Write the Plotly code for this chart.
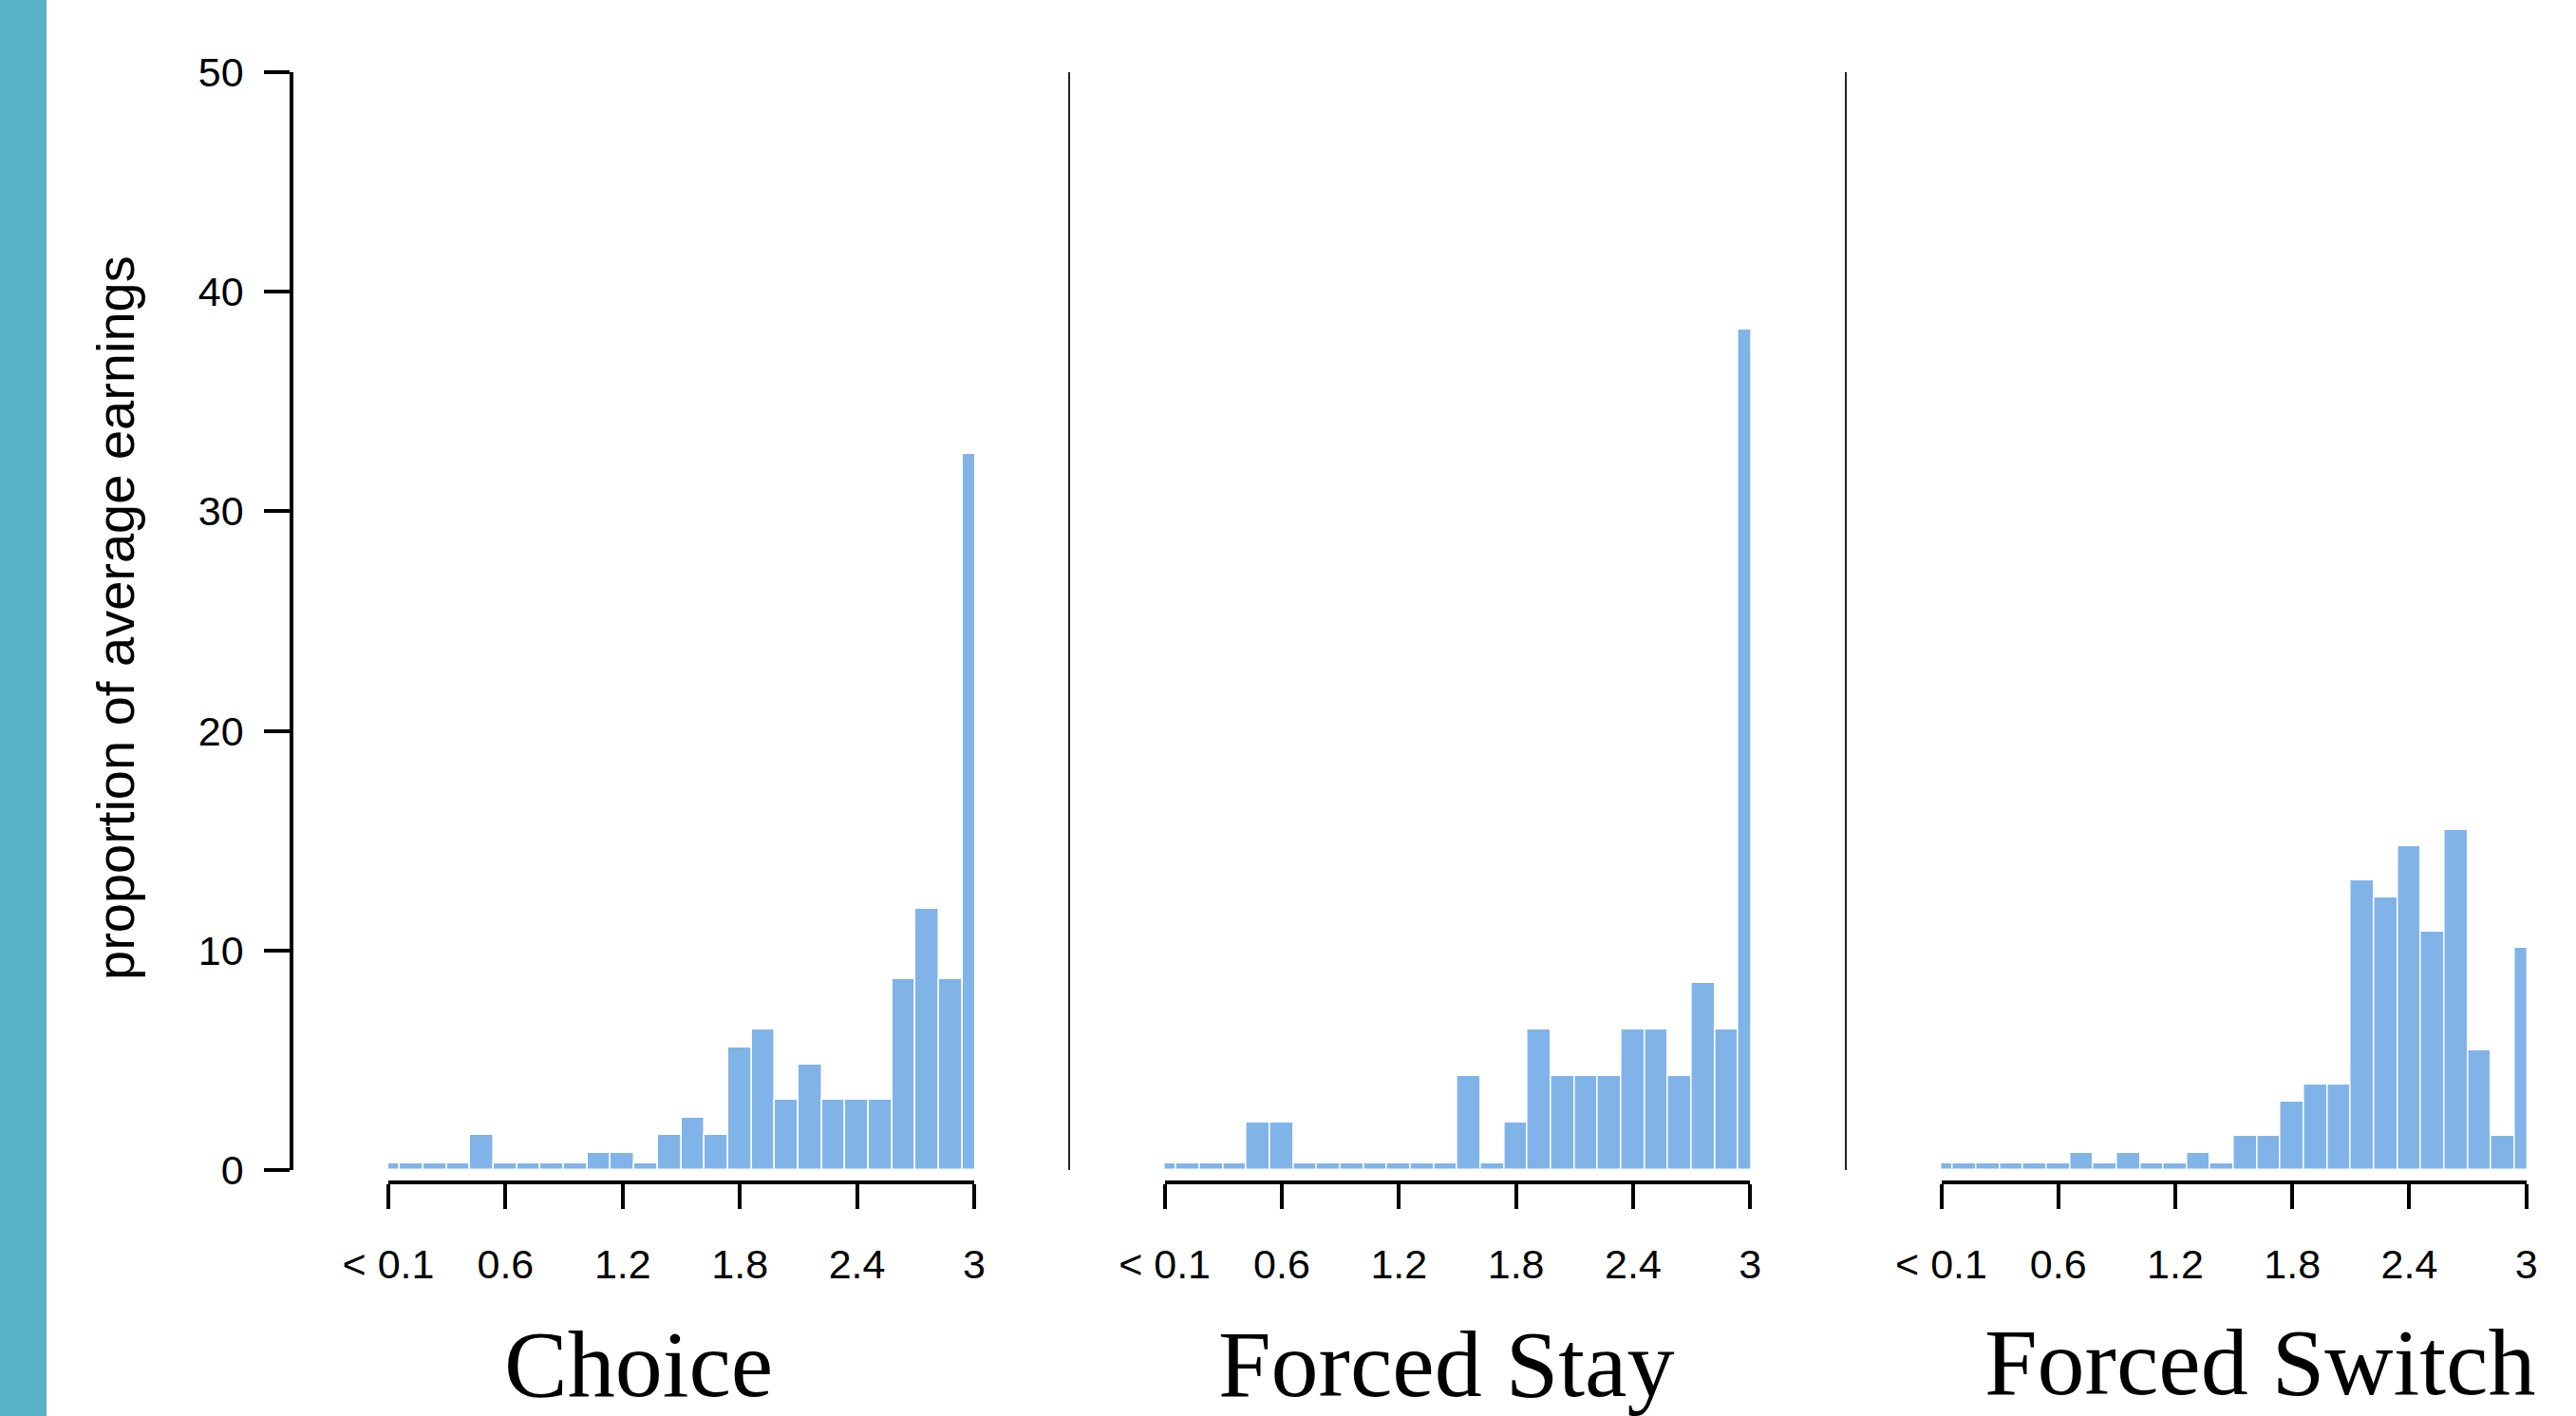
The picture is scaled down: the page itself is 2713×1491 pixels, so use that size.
import plotly.graph_objects as go

W, H = 2713, 1491

# bin centres (earnings bins) and tick labels
bins = [0.00, 0.12, 0.24, 0.36, 0.48, 0.60, 0.72, 0.84, 0.96, 1.08, 1.20, 1.32, 1.44,
        1.56, 1.68, 1.80, 1.92, 2.04, 2.16, 2.28, 2.40, 2.52, 2.64, 2.76, 2.88, 3.00]
tick_vals = [0, 0.6, 1.2, 1.8, 2.4, 3.0]
tick_text = ["< 0.1", "0.6", "1.2", "1.8", "2.4", "3"]
y_ticks = [0, 10, 20, 30, 40, 50]

panel_names = ["Choice", "Forced Stay", "Forced Switch"]

choice = [0.3, 0.3, 0.3, 0.3, 1.6, 0.3, 0.3, 0.3, 0.3, 0.8, 0.8, 0.3, 1.6,
          2.4, 1.6, 5.6, 6.4, 3.2, 4.8, 3.2, 3.2, 3.2, 8.7, 11.9, 8.7, 32.6]
forced_stay = [0.3, 0.3, 0.3, 0.3, 2.15, 2.15, 0.3, 0.3, 0.3, 0.3, 0.3, 0.3, 0.3,
               4.3, 0.3, 2.15, 6.4, 4.3, 4.3, 4.3, 6.4, 6.4, 4.3, 8.5, 6.4, 38.3]
forced_switch = [0.3, 0.3, 0.3, 0.3, 0.3, 0.3, 0.78, 0.3, 0.78, 0.3, 0.3, 0.78, 0.3,
                 1.56, 1.56, 3.1, 3.9, 3.9, 13.2, 12.4, 14.75, 10.85, 15.5, 5.45, 1.56, 10.1]

series = [choice, forced_stay, forced_switch]

BAR = "#80B4E9"

def px_x(p):
    return p / W

def px_y(p):
    return 1 - p / H

# pixel extents of each panel's x axis (tick 0 -> tick 3)
x_doms = [(409, 1026), (1226.6, 1843.3), (2044.5, 2660.7)]
y_dom = (px_y(1232), px_y(76))
x_axis_y = px_y(1245)

fig = go.Figure()
for i, vals in enumerate(series):
    xa = "x" if i == 0 else f"x{i+1}"
    fig.add_trace(go.Bar(
        x=bins, y=vals, xaxis=xa, yaxis="y", width=0.12,
        marker=dict(color=BAR, line=dict(color="white", width=1.5)),
        cliponaxis=False, showlegend=False, hoverinfo="x+y",
    ))

axis_font = dict(family="Liberation Sans, Arial, Helvetica, sans-serif", size=43, color="black")

layout = dict(
    width=W, height=H,
    margin=dict(l=0, r=0, t=0, b=0, pad=0, autoexpand=False),
    paper_bgcolor="white", plot_bgcolor="white",
    bargap=0,
    yaxis=dict(
        domain=list(y_dom), range=[0, 50], anchor="free", position=px_x(307),
        tickvals=y_ticks, ticks="outside", ticklen=27, tickwidth=3.5, tickcolor="black",
        showline=True, linewidth=3.5, linecolor="black", automargin=False,
        showgrid=False, zeroline=False, tickfont=axis_font, ticklabelstandoff=13,
    ),
)
for i, (a, b) in enumerate(x_doms):
    key = "xaxis" if i == 0 else f"xaxis{i+1}"
    layout[key] = dict(
        domain=[px_x(a), px_x(b)], range=[0, 3.0], anchor="free", position=x_axis_y,
        tickvals=tick_vals, ticktext=tick_text, ticks="outside", ticklen=26,
        tickwidth=3.5, tickcolor="black", showline=True, linewidth=3.5, linecolor="black",
        showgrid=False, zeroline=False, tickfont=axis_font, ticklabelstandoff=22,
        automargin=False,
    )
fig.update_layout(**layout)

# left blue stripe
fig.add_shape(type="rect", xref="paper", yref="paper", x0=0, x1=px_x(49), y0=0, y1=1,
              fillcolor="#5AB2CB", line=dict(width=0), layer="below")

# panel separators
for sx in [1126, 1944]:
    fig.add_shape(type="line", xref="paper", yref="y", x0=px_x(sx), x1=px_x(sx), y0=0, y1=50,
                  line=dict(color="#222222", width=2))

# panel titles
title_pos = [(672, 1436), (1523, 1436), (2380, 1434)]
for name, (cx, cy) in zip(panel_names, title_pos):
    fig.add_annotation(text=name, xref="paper", yref="paper", x=px_x(cx), y=px_y(cy),
                       xanchor="center", yanchor="middle", showarrow=False,
                       font=dict(family="Liberation Serif, Times New Roman, serif", size=100, color="black"))

# y axis title
fig.add_annotation(text="proportion of average earnings", xref="paper", yref="paper",
                   x=px_x(121), y=px_y(651), xanchor="center", yanchor="middle",
                   textangle=-90, showarrow=False,
                   font=dict(family="Liberation Sans, Arial, Helvetica, sans-serif", size=56, color="black"))

fig.write_html(
    "out.html",
    config={"displayModeBar": False},
    post_script="document.documentElement.style.margin='0';document.body.style.margin='0';"
                "document.body.style.padding='0';document.body.style.overflow='hidden';",
)
